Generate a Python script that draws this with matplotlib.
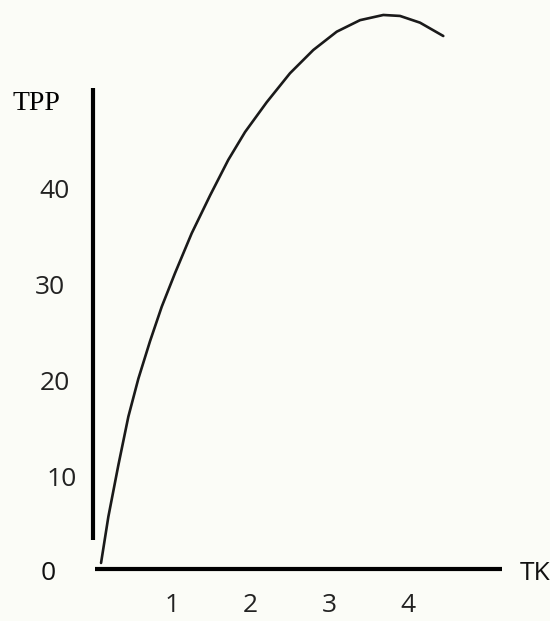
import matplotlib
matplotlib.use("Agg")
import matplotlib.pyplot as plt

# Data (TK = labour, TPP = total physical product)
tk = [0.098, 0.191, 0.318, 0.445, 0.572, 0.720, 0.869, 1.038, 1.250, 1.484,
      1.715, 1.928, 2.203, 2.499, 2.795, 3.093, 3.389, 3.685, 3.897, 4.151, 4.447]
tpp = [1.41, 6.23, 11.6, 16.65, 20.6, 24.5, 28.10, 31.6, 35.75, 39.7,
       43.4, 46.3, 49.4, 52.42, 54.84, 56.75, 57.95, 58.49, 58.39, 57.69, 56.30]
x_ticks = [1, 2, 3, 4]
y_ticks = [10, 20, 30, 40]
y_tick_offsets = [-0.40, -0.49, -0.55, -0.49]  # label x positions (data units)

bg = "#fbfcf7"
fig = plt.figure(figsize=(5.5, 6.21), dpi=100, facecolor=bg)
ax = fig.add_axes([0, 0, 1, 1])
ax.set_facecolor(bg)
ax.set_xlim(-1.186, 5.803)
ax.set_ylim(-4.635, 60.05)
ax.axis("off")

# axes lines
ax.plot([0, 0], [3.8, 50.9], color="black", lw=3.0, solid_capstyle="butt")
ax.plot([0.02, 5.19], [0.78, 0.78], color="black", lw=3.0, solid_capstyle="butt")

# curve
ax.plot(tk, tpp, color="#1a1a1a", lw=1.9, solid_capstyle="round",
        solid_joinstyle="round")

sans = ["Open Sans", "DejaVu Sans"]
for v in x_ticks:
    ax.text(v, -3.07, str(v), ha="center", va="center", fontsize=19,
            family=sans, color="#222222")
for v, xo in zip(y_ticks, y_tick_offsets):
    ax.text(xo, v + 0.1, str(v), ha="center", va="center", fontsize=19,
            family=sans, color="#222222")

ax.text(-0.58, 0.35, "0", ha="center", va="center", fontsize=19,
        family=sans, color="#111111")
ax.text(5.61, 0.3, "TK", ha="center", va="center", fontsize=19,
        family=sans, color="#111111")
ax.text(-0.72, 49.3, "TPP", ha="center", va="center", fontsize=20,
        family=["Liberation Serif", "DejaVu Serif"], color="#000000")

fig.savefig("out.png", dpi=100, facecolor=bg)
